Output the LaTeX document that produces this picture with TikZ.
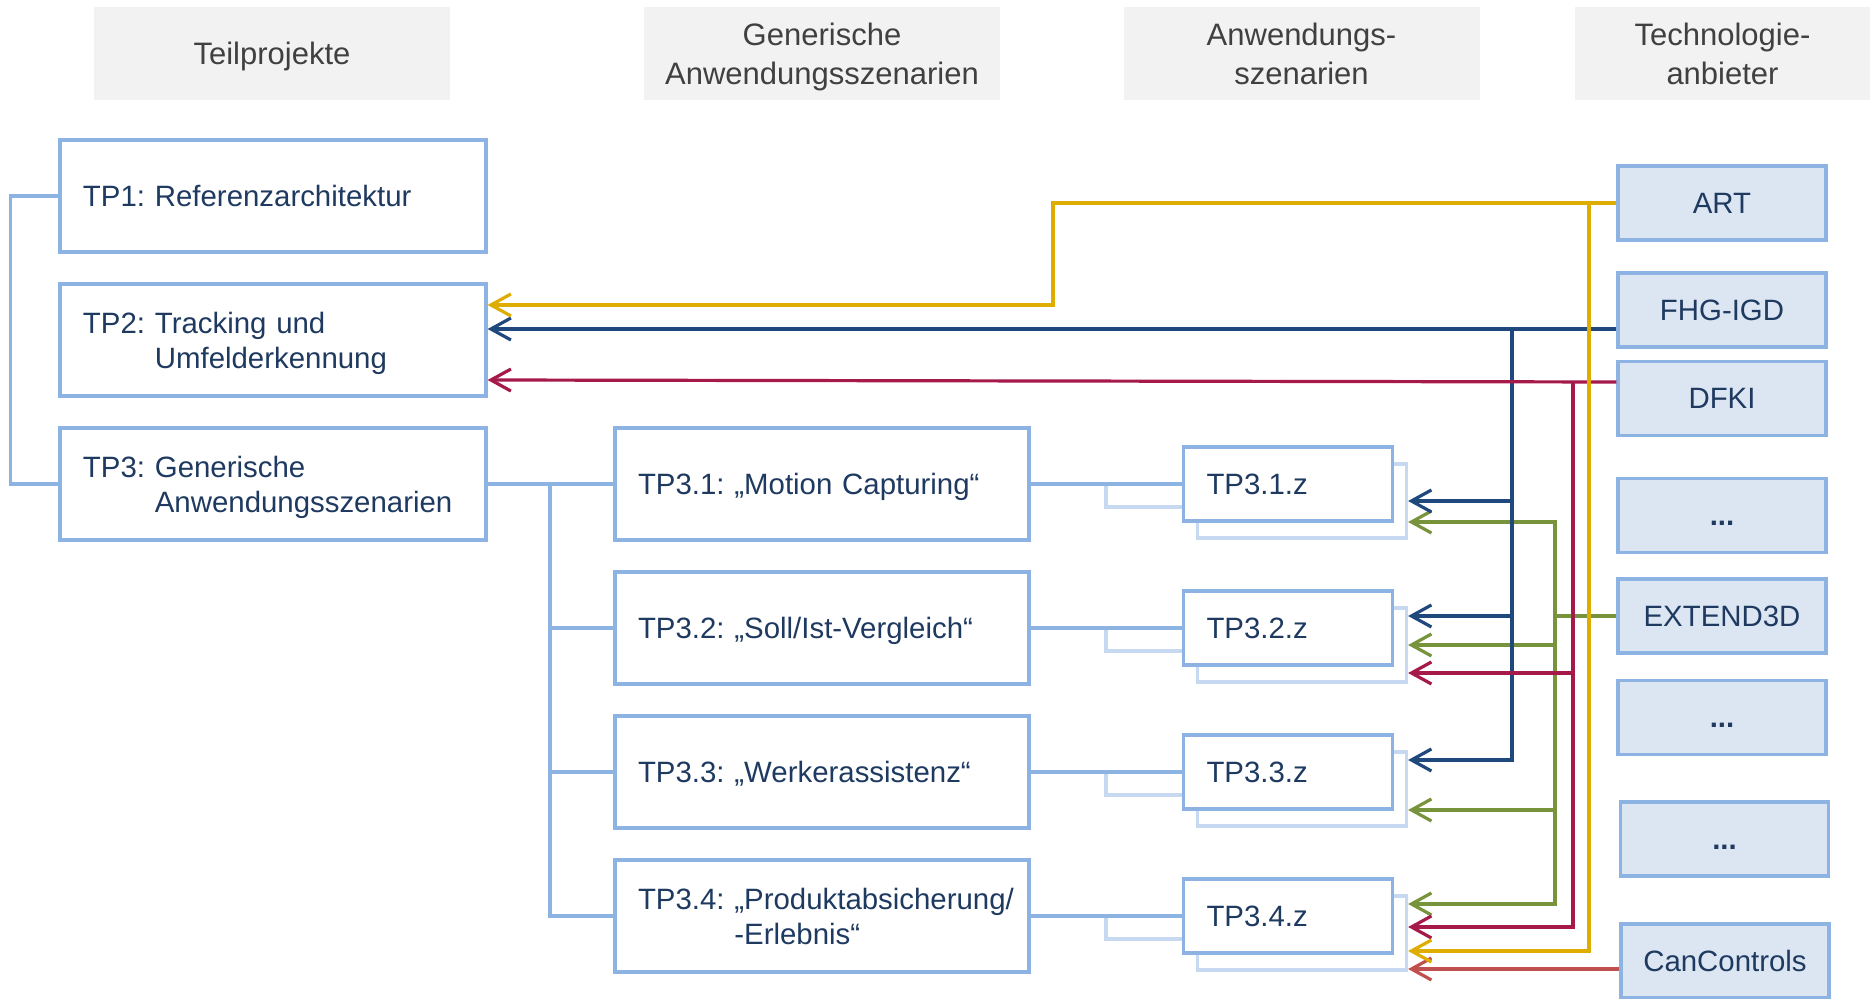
\documentclass[tikz,border=0pt]{standalone}
\usepackage{fontspec}
\setmainfont{Liberation Sans}
\usepackage{xcolor}
\usepackage{tikz}
\usetikzlibrary{arrows.meta}
\usetikzlibrary{shapes}
\definecolor{kopfgrau}{HTML}{F2F2F2}
\definecolor{kopftext}{HTML}{404040}
\definecolor{rahmen}{HTML}{8DB3E2}
\definecolor{schatten}{HTML}{C6D9F1}
\definecolor{anbfill}{HTML}{DCE6F2}
\definecolor{schrift}{HTML}{1F3A60}
\definecolor{gelb}{HTML}{DFAC00}
\definecolor{dblau}{HTML}{1F497D}
\definecolor{weinrot}{HTML}{A6194B}
\definecolor{gruen}{HTML}{77933C}
\definecolor{ziegel}{HTML}{C0504D}
\newcommand{\tsize}{\fontsize{14.7pt}{17.5pt}\selectfont}
\frenchspacing
\hyphenpenalty=10000
\exhyphenpenalty=10000
\hfuzz=40pt
\hbadness=10000

\begin{document}
\begin{tikzpicture}[x=0.5pt, y=-0.5pt,
        kopf/.style={fill=kopfgrau, text=kopftext, minimum width=178pt, minimum height=46.5pt, align=center, text depth=0pt, font=\fontsize{15.5pt}{19.5pt}\selectfont},
        tp/.style={draw=rahmen, line width=1.6pt, fill=white, text=schrift, font=\tsize, minimum height=56pt, inner xsep=11.5pt, text depth=0pt, align=left},
        zweizeilig/.style={text depth=17.5pt},
        zbox/.style={draw=rahmen, line width=1.6pt, fill=white, text=schrift, font=\tsize, minimum height=37pt, inner xsep=11.5pt, text width=81.5pt, text depth=0pt, align=left},
        zschatten/.style={draw=schatten, line width=1.6pt, fill=white, minimum width=104.5pt, minimum height=37pt},
        anb/.style={draw=rahmen, line width=1.6pt, fill=anbfill, text=schrift, font=\tsize, minimum width=104pt, minimum height=37pt, text height=10.5pt, text depth=0pt},
        verb/.style={draw=rahmen, line width=1.6pt},
        sverb/.style={draw=schatten, line width=1.6pt},
        strang/.style={line width=1.6pt},
        pfeil/.style={line width=1.6pt, -{Straight Barb[length=10pt, width=11pt]}}]

            \useasboundingbox (0, 0) rectangle (1870, 999);

            \draw (272, 53.5) node[kopf] (k1) {Teilprojekte};
            \draw (822, 53.5) node[kopf] (k2) {Generische\\Anwendungsszenarien};
            \draw (1301.5, 53.5) node[kopf] (k3) {Anwendungs-\\szenarien};
            \draw (1722.5, 53.5) node[kopf, minimum width=147.5pt] (k4) {Technologie-\\anbieter};

            \draw (273, 196) node[tp, text width=190pt] (tp1) {TP1: Referenzarchitektur};
            \draw (273, 340) node[tp, zweizeilig, text width=190pt] (tp2) {TP2: Tracking und\\\phantom{TP2: }Umfelderkennung};
            \draw (273, 484) node[tp, zweizeilig, text width=190pt] (tp3) {TP3: Generische\\\phantom{TP3: }Anwendungsszenarien};

            \draw (822, 484) node[tp, text width=184pt] (t31) {TP3.1: „Motion Capturing“};
            \draw (822, 628) node[tp, text width=184pt] (t32) {TP3.2: „Soll/Ist-Vergleich“};
            \draw (822, 772) node[tp, text width=184pt] (t33) {TP3.3: „Werkerassistenz“};
            \draw (822, 916) node[tp, zweizeilig, text width=184pt] (t34) {\mbox{TP3.4: „Produktabsicherung/}\\\phantom{TP3.4: }-Erlebnis“};

            \draw (1302, 501) node[zschatten] (z1s) {};
            \draw (1302, 645) node[zschatten] (z2s) {};
            \draw (1302, 789) node[zschatten] (z3s) {};
            \draw (1302, 933) node[zschatten] (z4s) {};
            \draw (1288, 484) node[zbox] (z1) {TP3.1.z};
            \draw (1288, 628) node[zbox] (z2) {TP3.2.z};
            \draw (1288, 772) node[zbox] (z3) {TP3.3.z};
            \draw (1288, 916) node[zbox] (z4) {TP3.4.z};

            \draw (1722, 203) node[anb] (art) {ART};
            \draw (1722, 310) node[anb] (fhg) {FHG-IGD};
            \draw (1722, 398.5) node[anb] (dfki) {DFKI};
            \draw (1722, 515.5) node[anb] (anb1) {\textbf{...}};
            \draw (1722, 616) node[anb] (ext) {EXTEND3D};
            \draw (1722, 717.5) node[anb] (anb2) {\textbf{...}};
            \draw (1724.5, 839) node[anb] (anb3) {\textbf{...}};
            \draw (1725, 961) node[anb] (can) {CanControls};

            \coordinate (mk) at (550, 484);
            \coordinate (bk) at (1512, 329);
            \coordinate (rk) at (1573, 382);
            \coordinate (gk) at (1555, 616);
            \coordinate (yk) at (1589, 203);

            \draw[verb] (tp1.west) -- ++(-48, 0) |- (tp3.west);
            \draw[verb] (tp3.east) -- (t31.west);
            \draw[verb] (mk) |- (t32.west);
            \draw[verb] (mk) |- (t33.west);
            \draw[verb] (mk) |- (t34.west);

            \draw[sverb] (t31.east -| 1106, 0) |- (z1.west |- 0, 507);
            \draw[sverb] (t32.east -| 1106, 0) |- (z2.west |- 0, 651);
            \draw[sverb] (t33.east -| 1106, 0) |- (z3.west |- 0, 795);
            \draw[sverb] (t34.east -| 1106, 0) |- (z4.west |- 0, 939);
            \draw[verb] (t31.east) -- (z1.west);
            \draw[verb] (t32.east) -- (z2.west);
            \draw[verb] (t33.east) -- (z3.west);
            \draw[verb] (t34.east) -- (z4.west);

            \draw[pfeil, gruen] (gk) |- (z1s.east |- 0, 522);
            \draw[pfeil, gruen] (gk) |- (z4s.east |- 0, 904);
            \draw[pfeil, gruen] (gk |- 0, 645) -- (z2s.east |- 0, 645);
            \draw[pfeil, gruen] (gk |- 0, 810) -- (z3s.east |- 0, 810);
            \draw[strang, gruen] (ext.west) -- (gk);

            \draw[pfeil, dblau] (fhg.west |- bk) -- (tp2.east |- bk);
            \draw[pfeil, dblau] (bk) |- (z3s.east |- 0, 760);
            \draw[pfeil, dblau] (bk |- 0, 501) -- (z1s.east |- 0, 501);
            \draw[pfeil, dblau] (bk |- 0, 616) -- (z2s.east |- 0, 616);

            \draw[pfeil, weinrot] (dfki.west |- rk) -- (tp2.east |- 0, 380);
            \draw[pfeil, weinrot] (rk) |- (z4s.east |- 0, 927);
            \draw[pfeil, weinrot] (rk |- 0, 673) -- (z2s.east |- 0, 673);

            \draw[pfeil, ziegel] (can.west |- 0, 969) -- (z4s.east |- 0, 969);

            \draw[pfeil, gelb] (art.west) -- (1053, 203) -- (1053, 305) -- (tp2.east |- 0, 305);
            \draw[pfeil, gelb] (yk) |- (z4s.east |- 0, 951);

        \end{tikzpicture}
\end{document}
